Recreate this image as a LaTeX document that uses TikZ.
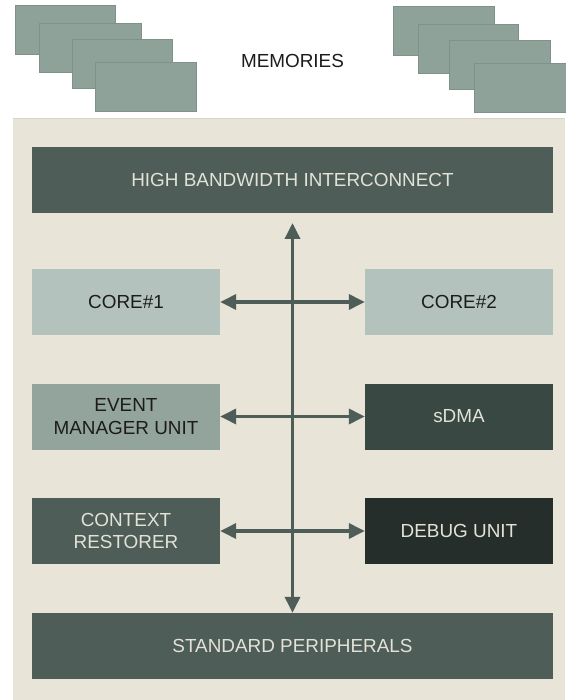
\documentclass[tikz,border=0pt]{standalone}
\usepackage{fontspec}
\setmainfont{Liberation Sans}
\usetikzlibrary{arrows.meta}
\definecolor{panelbg}{HTML}{E8E5D8}
\definecolor{paneledge}{HTML}{D6D4CA}
\definecolor{darkbox}{HTML}{4E5D57}
\definecolor{sdmabox}{HTML}{3A4843}
\definecolor{debugbox}{HTML}{262E2B}
\definecolor{corebox}{HTML}{B4C2BE}
\definecolor{emubox}{HTML}{93A49C}
\definecolor{memfill}{HTML}{8FA29A}
\definecolor{memedge}{HTML}{7E928A}
\definecolor{lighttext}{HTML}{E2E2D8}
\definecolor{darktext}{HTML}{1C1C1C}
\begin{document}
\begin{tikzpicture}[x=1pt,y=-1pt,
  blk/.style={minimum height=66pt, inner sep=0pt, align=center,
    font=\fontsize{18.9}{22.5}\selectfont},
  small/.style={blk, minimum width=188pt},
  wide/.style={blk, minimum width=521pt},
  darkfill/.style={fill=#1, text=lighttext},
  lightfill/.style={fill=#1, text=darktext},
  memrect/.style={fill=memfill, draw=memedge, line width=0.8pt},
  arr/.style={draw=darkbox, line width=3.5pt, {Triangle[length=16pt,width=15pt]}-{Triangle[length=16pt,width=15pt]}}
]
\useasboundingbox (0,0) rectangle (565,700);
\fill[white] (0,0) rectangle (565,700);
% panel
\fill[panelbg] (13,118) rectangle (565,700);
\draw[paneledge, line width=1pt] (13,118.5) -- (565,118.5);
% memories left
\draw[memrect] (15,5) rectangle (115,54);
\draw[memrect] (39,23) rectangle (141,72);
\draw[memrect] (72,39) rectangle (172,88);
\draw[memrect] (95,62) rectangle (196,111);
% memories right
\draw[memrect] (393,6) rectangle (494,55);
\draw[memrect] (418,24) rectangle (518,73);
\draw[memrect] (449,40) rectangle (550,89);
\draw[memrect] (474,63) rectangle (566,112);
\node[font=\fontsize{18.9}{22}\selectfont, text=darktext] (mem) at (292.5,61) {MEMORIES};
% blocks
\node[wide, darkfill=darkbox] (hbi) at (292.5,180) {HIGH BANDWIDTH INTERCONNECT};
\node[small, lightfill=corebox] (core1) at (126,302) {CORE\#1};
\node[small, lightfill=corebox] (core2) at (459,302) {CORE\#2};
\node[small, lightfill=emubox] (emu) at (126,416.5) {EVENT\\MANAGER UNIT};
\node[small, darkfill=sdmabox] (sdma) at (459,416.5) {sDMA};
\node[small, darkfill=darkbox] (ctx) at (126,531) {CONTEXT\\RESTORER};
\node[small, darkfill=debugbox] (dbg) at (459,531) {DEBUG UNIT};
\node[wide, darkfill=darkbox] (sp) at (292.5,646) {STANDARD PERIPHERALS};
% connectors
\coordinate (vtop) at (292.5,223);
\draw[arr] (vtop) -- (sp.north);
\draw[arr] (core1.east) -- (core2.west);
\draw[arr] (emu.east) -- (sdma.west);
\draw[arr] (ctx.east) -- (dbg.west);
\end{tikzpicture}
\end{document}
